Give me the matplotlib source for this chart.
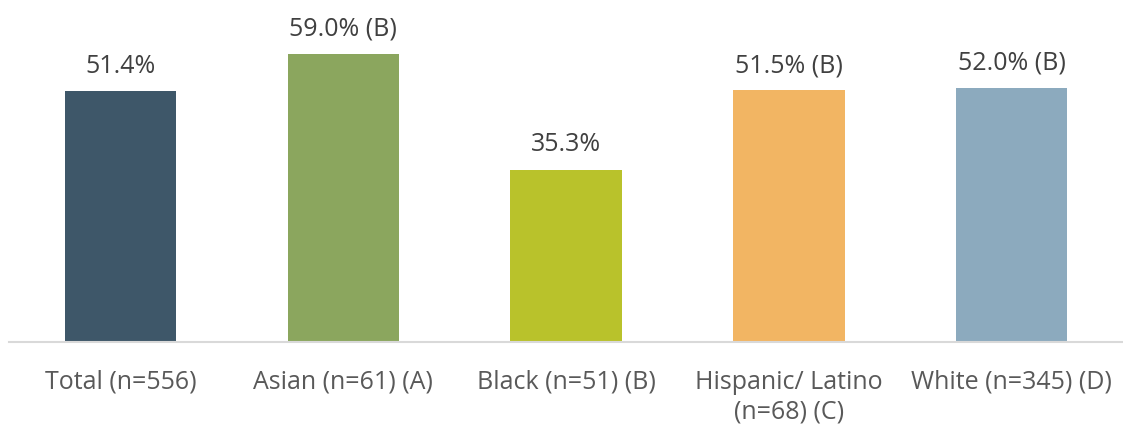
import matplotlib
matplotlib.use("Agg")
import matplotlib.pyplot as plt

plt.rcParams['font.family'] = ['Open Sans', 'DejaVu Sans']

categories = ["Total (n=556)", "Asian (n=61) (A)", "Black (n=51) (B)",
              "Hispanic/ Latino\n(n=68) (C)", "White (n=345) (D)"]
values = [51.4, 59.0, 35.3, 51.5, 52.0]
sig_notes = ["", " (B)", "", " (B)", " (B)"]
colors = ["#3E5769", "#8BA65E", "#B9C22B", "#F2B563", "#8CAABE"]

fig = plt.figure(figsize=(11.23, 4.29), dpi=100)
ax = fig.add_axes([9 / 1123, 1 - 342 / 429, 1 - 9 / 1123, 342 / 429])

x = range(len(categories))
bars = ax.bar(x, values, width=0.5, color=colors, zorder=2)

for xi, v, note in zip(x, values, sig_notes):
    ax.annotate(f"{v:.1f}%{note}", xy=(xi, v), xytext=(0, 13),
                textcoords="offset points", ha="center", va="baseline",
                fontsize=18, color="#404040")

ax.set_xlim(-0.5, len(categories) - 0.5)
ax.set_ylim(0, 70)
ax.set_xticks(list(x))
ax.set_xticklabels(categories, fontsize=18, color="#595959", linespacing=1.25)
ax.tick_params(axis="x", length=0, pad=20)
ax.set_yticks([])

for side in ["top", "right", "left"]:
    ax.spines[side].set_visible(False)
ax.spines["bottom"].set_color("#D9D9D9")
ax.spines["bottom"].set_linewidth(1.5)
ax.patch.set_alpha(0)

fig.savefig("out.png", dpi=100)
